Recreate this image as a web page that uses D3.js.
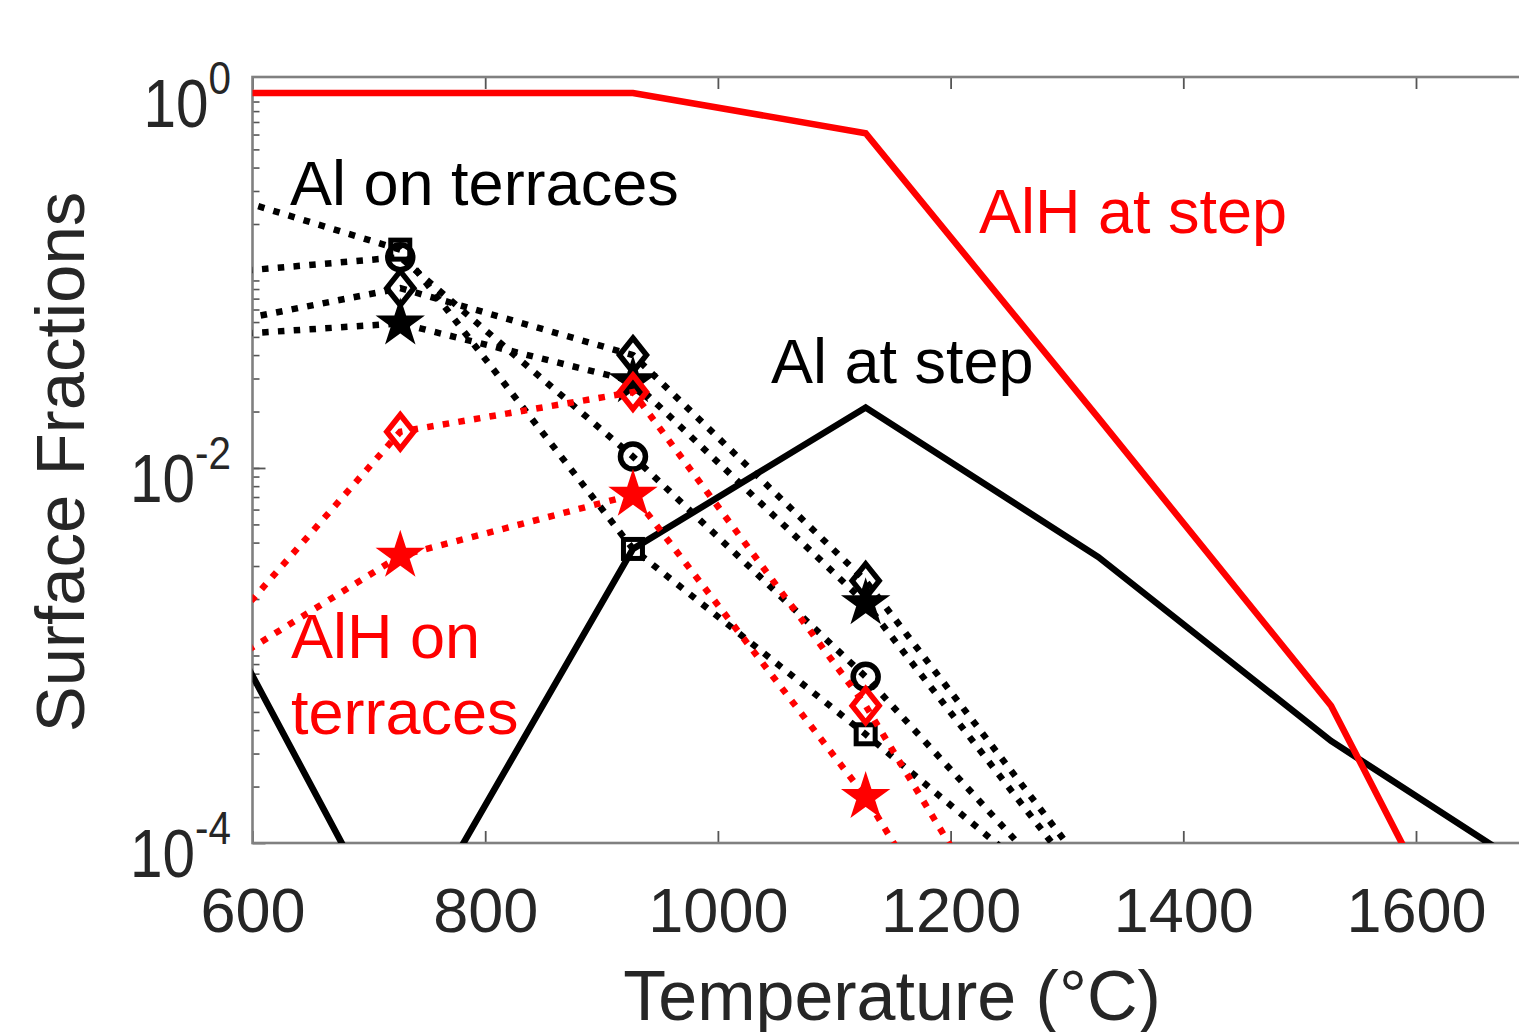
<!DOCTYPE html>
<html>
<head>
<meta charset="utf-8">
<script src="https://cdn.jsdelivr.net/npm/d3@7"></script>
<style>
body{margin:0;background:#fff;overflow:hidden}
svg{display:block}
text{font-family:Arial,"Liberation Sans",sans-serif}
</style>
</head>
<body>
<svg id="chart"></svg>
<script>
// temperatures (°C) of the computed points
var temps = [527, 727, 927, 1127, 1327, 1527, 1727];
var tempsTer = [527, 727, 927, 1127, 1327];

// solid lines, at the step
var alhStep = [1.0, 1.0, 1.0, 0.61, 0.0185, 5.4e-4, 2.1e-6];
var alStep = [5.5e-3, 2.6e-5, 3.7e-3, 0.021, 3.35e-3, 3.5e-4, 5.5e-5];

// dotted lines, on terraces
var alTerSquare = [0.35, 0.146, 3.7e-3, 3.8e-4, 3.5e-5];
var alTerCircle = [0.104, 0.133, 0.0115, 7.7e-4, 3.4e-5];
var alTerDiamond = [0.052, 0.091, 0.040, 2.5e-3, 6.0e-5];
var alTerStar = [0.049, 0.059, 0.029, 1.9e-3, 4.8e-5];
var alhTerDiamond = [6.1e-4, 0.0156, 0.0254, 5.4e-4, 4.8e-6];
var alhTerStar = [5.8e-4, 3.4e-3, 7.2e-3, 1.76e-4, 1.6e-6];

var xTicks = [600, 800, 1000, 1200, 1400, 1600];
var yMajor = [1e-4, 1e-2, 1];
var yExp = ["-4", "-2", "0"];

var width = 1519;
var height = 1032;
var pL = 252.5, pR = 1648.7, pT = 77, pB = 843;

var svg = d3.select("#chart")
  .attr("width", width)
  .attr("height", height);

var x = d3.scaleLinear().domain([600, 1800]).range([pL, pR]);
var y = d3.scaleLog().domain([1e-4, Math.pow(10, 0.085)]).range([pB, pT]);

svg.append("clipPath").attr("id", "plot")
  .append("rect")
  .attr("x", pL).attr("y", pT)
  .attr("width", pR - pL).attr("height", pB - pT);

// minor log ticks
var minor = [];
for (var e = -4; e < 0; e++) {
  for (var k = 2; k <= 9; k++) minor.push(k * Math.pow(10, e));
  if (e > -4) minor.push(Math.pow(10, e));
}

var axisColor = "#808080";

svg.append("g")
  .attr("transform", "translate(" + pL + ",0)")
  .call(d3.axisLeft(y).tickValues(minor).tickSize(-7).tickFormat(""))
  .call(function(g){ g.select(".domain").remove(); })
  .selectAll("line").attr("stroke", "#555").attr("stroke-width", 1.6);

svg.append("g")
  .attr("transform", "translate(" + pL + ",0)")
  .call(d3.axisLeft(y).tickValues(yMajor).tickSize(-13).tickFormat(""))
  .call(function(g){ g.select(".domain").remove(); })
  .selectAll("line").attr("stroke", "#555").attr("stroke-width", 1.8);

svg.append("g")
  .attr("transform", "translate(0," + pB + ")")
  .call(d3.axisBottom(x).tickValues(xTicks).tickSize(-12).tickPadding(44)
    .tickFormat(d3.format("d")))
  .call(function(g){
    g.select(".domain").remove();
    g.selectAll("line").attr("stroke", "#555").attr("stroke-width", 1.8);
    g.selectAll("text")
      .attr("font-size", 63)
      .attr("fill", "#262626")
      .attr("font-family", "Arial, 'Liberation Sans', sans-serif");
  });

svg.append("g")
  .attr("transform", "translate(0," + pT + ")")
  .call(d3.axisTop(x).tickValues(xTicks).tickSize(-12).tickFormat(""))
  .call(function(g){ g.select(".domain").remove(); })
  .selectAll("line").attr("stroke", "#555").attr("stroke-width", 1.8);

// box
svg.append("rect")
  .attr("x", pL).attr("y", pT)
  .attr("width", pR - pL).attr("height", pB - pT)
  .attr("fill", "none")
  .attr("stroke", axisColor)
  .attr("stroke-width", 2.6);

// y tick labels 10^n
var ylab = svg.selectAll(".ylab")
  .data(yMajor)
  .enter()
  .append("text")
  .attr("class", "ylab")
  .attr("transform", function(d){
    return "translate(231," + (y(d) + 34) + ") scale(0.86,1)";
  })
  .attr("text-anchor", "end")
  .attr("fill", "#262626");
ylab.append("tspan").attr("font-size", 68).text("10");
ylab.append("tspan").attr("font-size", 47).attr("dy", -33)
  .text(function(d, i){ return yExp[i]; });

// axis titles
svg.append("text")
  .attr("x", 892).attr("y", 1020)
  .attr("text-anchor", "middle")
  .attr("font-size", 70)
  .attr("fill", "#262626")
  .text("Temperature (°C)");

svg.append("text")
  .attr("transform", "translate(84,462) rotate(-90)")
  .attr("text-anchor", "middle")
  .attr("font-size", 69)
  .attr("fill", "#262626")
  .text("Surface Fractions");

var plot = svg.append("g").attr("clip-path", "url(#plot)");

var line = d3.line()
  .x(function(d){ return x(d[0]); })
  .y(function(d){ return y(d[1]); });

var drawSolid = function(vals, color)
{
  plot.append("path")
    .datum(d3.zip(temps, vals))
    .attr("d", line)
    .attr("fill", "none")
    .attr("stroke", color)
    .attr("stroke-width", 6.5)
    .attr("stroke-linejoin", "miter");
}

var diamondPath = function(w, h)
{
  return "M0," + (-h) + "L" + w + ",0L0," + h + "L" + (-w) + ",0Z";
}

var drawDotted = function(vals, color, marker)
{
  var pts = d3.zip(tempsTer, vals);
  plot.append("path")
    .datum(pts)
    .attr("d", line)
    .attr("fill", "none")
    .attr("stroke", color)
    .attr("stroke-width", 6.5)
    .attr("stroke-dasharray", "6.5,9.3");

  var g = plot.selectAll(null)
    .data(pts)
    .enter()
    .append("g")
    .attr("transform", function(d){
      return "translate(" + x(d[0]) + "," + y(d[1]) + ")";
    });

  if (marker == "square") {
    g.append("rect")
      .attr("x", -9.5).attr("y", -9.5).attr("width", 19).attr("height", 19)
      .attr("fill", "none").attr("stroke", color).attr("stroke-width", 5);
  } else if (marker == "circle") {
    g.append("circle").attr("r", 12.5)
      .attr("fill", "none").attr("stroke", color).attr("stroke-width", 5.5);
  } else if (marker == "diamond") {
    g.append("path").attr("d", diamondPath(13.5, 17))
      .attr("fill", "none").attr("stroke", color).attr("stroke-width", 5.5);
  } else {
    g.append("path")
      .attr("d", d3.symbol().type(d3.symbolStar).size(580))
      .attr("fill", color).attr("stroke", color).attr("stroke-width", 2);
  }
}

drawSolid(alStep, "#000");
drawSolid(alhStep, "#ff0000");

drawDotted(alTerSquare, "#000", "square");
drawDotted(alTerCircle, "#000", "circle");
drawDotted(alTerStar, "#000", "star");
drawDotted(alTerDiamond, "#000", "diamond");
drawDotted(alhTerStar, "#ff0000", "star");
drawDotted(alhTerDiamond, "#ff0000", "diamond");

// annotations
var notes = [
  {t: "Al on terraces", x: 290, y: 205, c: "#000"},
  {t: "AlH at step", x: 979, y: 233, c: "#ff0000"},
  {t: "Al at step", x: 771, y: 383, c: "#000"},
  {t: "AlH on", x: 291, y: 658, c: "#ff0000"},
  {t: "terraces", x: 291, y: 734, c: "#ff0000"}
];
svg.selectAll(".note")
  .data(notes)
  .enter()
  .append("text")
  .attr("class", "note")
  .attr("x", function(d){ return d.x; })
  .attr("y", function(d){ return d.y; })
  .attr("font-size", 63)
  .attr("fill", function(d){ return d.c; })
  .text(function(d){ return d.t; });
</script>
</body>
</html>
